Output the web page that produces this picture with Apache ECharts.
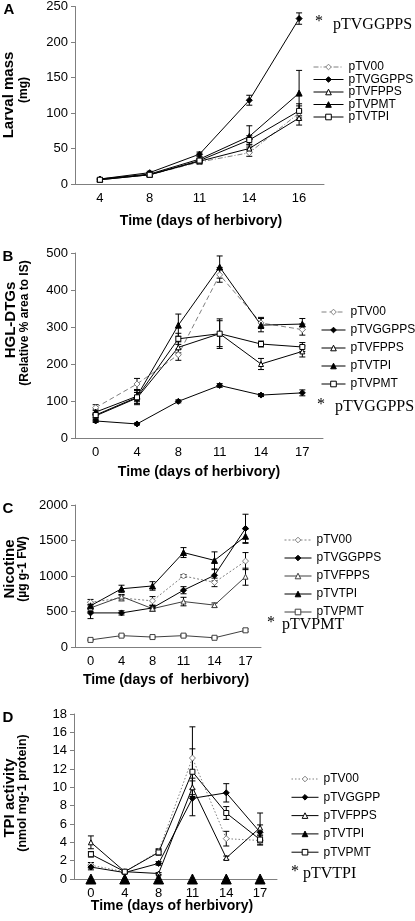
<!DOCTYPE html>
<html><head><meta charset="utf-8">
<script src="https://cdn.jsdelivr.net/npm/echarts@6/dist/echarts.min.js"></script>
<style>html,body{margin:0;padding:0;background:#fff}#c{width:415px;height:921px}</style>
</head><body><div id="c"></div>
<script>
// ---------- categories ----------
const daysA = ['4', '8', '11', '14', '16'];
const daysBCD = ['0', '4', '8', '11', '14', '17'];

// ---------- Panel A: larval mass (mg) ----------
const A_pTV00 = [7, 13, 31, 44, 100];
const A_pTV00_se = [1.5, 1.5, 3, 5, 10];
const A_pTVGGPPS = [7, 16, 42, 118, 233];
const A_pTVGGPPS_se = [1, 2, 3, 7, 8];
const A_pTVFPPS = [6, 13, 32, 50, 93];
const A_pTVFPPS_se = [1, 1.5, 3, 5, 10];
const A_pTVPMT = [7, 14, 35, 67, 128];
const A_pTVPMT_se = [1, 2, 3, 15, 32];
const A_pTVTPI = [6, 13, 33, 62, 103];
const A_pTVTPI_se = [1, 1.5, 3, 6, 10];

// ---------- Panel B: HGL-DTGs ----------
const B_pTV00 = [82, 146, 225, 441, 311, 293];
const B_pTV00_se = [8, 15, 15, 20, 15, 15];
const B_pTVGGPPS = [46, 38, 99, 142, 116, 122];
const B_pTVGGPPS_se = [4, 3, 4, 5, 4, 8];
const B_pTVFPPS = [60, 108, 245, 282, 200, 234];
const B_pTVFPPS_se = [6, 15, 15, 35, 15, 15];
const B_pTVTPI = [70, 113, 305, 462, 305, 308];
const B_pTVTPI_se = [8, 15, 30, 30, 18, 15];
const B_pTVPMT = [62, 110, 268, 282, 254, 246];
const B_pTVPMT_se = [6, 20, 15, 40, 8, 12];

// ---------- Panel C: nicotine ----------
const C_pTV00 = [630, 690, 650, 1000, 910, 1210];
const C_pTV00_se = [40, 40, 60, 20, 60, 120];
const C_pTVGGPPS = [480, 480, 550, 800, 1010, 1670];
const C_pTVGGPPS_se = [80, 30, 30, 50, 80, 200];
const C_pTVFPPS = [550, 710, 540, 640, 590, 990];
const C_pTVFPPS_se = [50, 30, 40, 60, 30, 120];
const C_pTVTPI = [580, 820, 860, 1330, 1220, 1560];
const C_pTVTPI_se = [50, 50, 60, 70, 120, 100];
const C_pTVPMT = [100, 160, 140, 160, 130, 235];
const C_pTVPMT_se = [10, 15, 10, 15, 10, 20];

// ---------- Panel D: TPI activity ----------
const D_pTV00 = [1.5, 0.8, 3.0, 13.2, 4.4, 4.2];
const D_pTV00_se = [0.3, 0.2, 0.3, 3.4, 0.8, 0.5];
const D_pTVGGPP = [1.3, 0.7, 1.7, 8.8, 9.4, 5.1];
const D_pTVGGPP_se = [0.3, 0.1, 0.2, 1.9, 1.0, 0.8];
const D_pTVFPPS = [4.0, 0.8, 0.6, 10.0, 2.3, 5.6];
const D_pTVFPPS_se = [0.7, 0.1, 0.1, 1.0, 0.2, 1.6];
const D_pTVTPI = [0, 0, 0, 0, 0, 0];
const D_pTVPMT = [2.7, 0.8, 2.9, 11.7, 7.2, 4.3];
const D_pTVPMT_se = [0.3, 0.1, 0.3, 2.5, 0.7, 0.5];

// ---------- axis ticks ----------
const yA = {min: 0, max: 250, interval: 50};
const yB = {min: 0, max: 500, interval: 100};
const yC = {min: 0, max: 2000, interval: 500};
const yD = {min: 0, max: 18, interval: 2};

const FONT = '"Liberation Sans", Arial, sans-serif';
const SERIF = '"Liberation Serif", "Times New Roman", serif';
const AXIS_GRAY = '#7f7f7f';

function line(idx, panel, name, data, symbol, filled, dash, color, size) {
  color = color || '#000';
  return {
    type: 'line', name: panel + ':' + name, xAxisIndex: idx, yAxisIndex: idx,
    data: data, symbol: symbol, symbolSize: size || 5, showSymbol: true,
    lineStyle: {color: color, width: 1, type: dash || 'solid'},
    itemStyle: {color: filled ? '#000' : '#fff', borderColor: filled ? '#000' : color, borderWidth: 1},
    emphasis: {disabled: true}, animation: false, z: 3
  };
}
function errs(idx, vals, se) {
  return {
    type: 'custom', xAxisIndex: idx, yAxisIndex: idx, animation: false, silent: true, z: 2,
    encode: {x: 0, y: [1, 2]},
    data: vals.map((v, i) => [i, v - se[i], v + se[i]]),
    renderItem: function (params, api) {
      const lo = api.coord([api.value(0), api.value(1)]);
      const hi = api.coord([api.value(0), api.value(2)]);
      const w = 3, st = {stroke: '#000', lineWidth: 1};
      return {type: 'group', children: [
        {type: 'line', shape: {x1: lo[0], y1: lo[1], x2: hi[0], y2: hi[1]}, style: st},
        {type: 'line', shape: {x1: lo[0] - w, y1: lo[1], x2: lo[0] + w, y2: lo[1]}, style: st},
        {type: 'line', shape: {x1: hi[0] - w, y1: hi[1], x2: hi[0] + w, y2: hi[1]}, style: st}
      ]};
    }
  };
}
function xAx(idx, cats) {
  return {type: 'category', gridIndex: idx, data: cats, boundaryGap: true,
    axisLine: {lineStyle: {color: AXIS_GRAY, width: 1}},
    axisTick: {length: 4, lineStyle: {color: AXIS_GRAY}},
    axisLabel: {color: '#000', fontSize: 13, fontFamily: FONT, margin: 8}};
}
function yAx(idx, t) {
  return {type: 'value', gridIndex: idx, min: t.min, max: t.max, interval: t.interval,
    axisLine: {show: true, lineStyle: {color: AXIS_GRAY, width: 1}},
    axisTick: {show: true, length: 4, lineStyle: {color: AXIS_GRAY}},
    splitLine: {show: false},
    axisLabel: {color: '#000', fontSize: 13, fontFamily: FONT, margin: 7, formatter: v => String(v)}};
}
function legend(panel, names, left, top, iw, gap, extra) {
  return {orient: 'vertical', left: left, top: top, itemWidth: iw, itemHeight: 7, itemGap: gap,
    selectedMode: false,
    itemStyle: {borderWidth: 1},
    lineStyle: {width: 1},
    data: names.map(n => Object.assign({name: panel + ':' + n}, (extra && extra[n]) || {})),
    formatter: n => n.split(':')[1],
    textStyle: {fontSize: 12, fontFamily: FONT, color: '#000', padding: [0, 0, 0, 0]}};
}
function txt(x, y, s, font, align, rot) {
  return {type: 'text', x: x, y: y, rotation: rot || 0, silent: true,
    style: {text: s, font: font, fill: '#000', align: align || 'center', verticalAlign: 'middle'}};
}

const DASHDOT = [5, 2, 1, 2];

const series = [
  // A
  errs(0, A_pTV00, A_pTV00_se), errs(0, A_pTVGGPPS, A_pTVGGPPS_se), errs(0, A_pTVFPPS, A_pTVFPPS_se),
  errs(0, A_pTVPMT, A_pTVPMT_se), errs(0, A_pTVTPI, A_pTVTPI_se),
  line(0, 'A', 'pTV00', A_pTV00, 'diamond', false, DASHDOT, '#808080', 6),
  line(0, 'A', 'pTVGGPPS', A_pTVGGPPS, 'diamond', true, 'solid', '#000', 6),
  line(0, 'A', 'pTVFPPS', A_pTVFPPS, 'triangle', false, 'solid', '#000', 5),
  line(0, 'A', 'pTVPMT', A_pTVPMT, 'triangle', true, 'solid', '#000', 6),
  line(0, 'A', 'pTVTPI', A_pTVTPI, 'rect', false, 'solid', '#000', 5),
  // B
  errs(1, B_pTV00, B_pTV00_se), errs(1, B_pTVGGPPS, B_pTVGGPPS_se), errs(1, B_pTVFPPS, B_pTVFPPS_se),
  errs(1, B_pTVTPI, B_pTVTPI_se), errs(1, B_pTVPMT, B_pTVPMT_se),
  line(1, 'B', 'pTV00', B_pTV00, 'diamond', false, [5, 3], '#808080', 6),
  line(1, 'B', 'pTVGGPPS', B_pTVGGPPS, 'diamond', true, 'solid', '#000', 6),
  line(1, 'B', 'pTVFPPS', B_pTVFPPS, 'triangle', false, 'solid', '#000', 5),
  line(1, 'B', 'pTVTPI', B_pTVTPI, 'triangle', true, 'solid', '#000', 6),
  line(1, 'B', 'pTVPMT', B_pTVPMT, 'rect', false, 'solid', '#000', 5),
  // C
  errs(2, C_pTV00, C_pTV00_se), errs(2, C_pTVGGPPS, C_pTVGGPPS_se), errs(2, C_pTVFPPS, C_pTVFPPS_se),
  errs(2, C_pTVTPI, C_pTVTPI_se), errs(2, C_pTVPMT, C_pTVPMT_se),
  line(2, 'C', 'pTV00', C_pTV00, 'diamond', false, [2, 2], '#808080', 6),
  line(2, 'C', 'pTVGGPPS', C_pTVGGPPS, 'diamond', true, 'solid', '#000', 6),
  line(2, 'C', 'pTVFPPS', C_pTVFPPS, 'triangle', false, 'solid', '#404040', 5),
  line(2, 'C', 'pTVTPI', C_pTVTPI, 'triangle', true, 'solid', '#000', 6),
  line(2, 'C', 'pTVPMT', C_pTVPMT, 'rect', false, 'solid', '#404040', 5),
  // D
  errs(3, D_pTV00, D_pTV00_se), errs(3, D_pTVGGPP, D_pTVGGPP_se), errs(3, D_pTVFPPS, D_pTVFPPS_se),
  errs(3, D_pTVPMT, D_pTVPMT_se),
  line(3, 'D', 'pTV00', D_pTV00, 'diamond', false, [1.5, 2], '#808080', 6),
  line(3, 'D', 'pTVGGPP', D_pTVGGPP, 'diamond', true, 'solid', '#000', 6),
  line(3, 'D', 'pTVFPPS', D_pTVFPPS, 'triangle', false, 'solid', '#000', 5),
  Object.assign(line(3, 'D', 'pTVTPI', D_pTVTPI, 'triangle', true, 'solid', '#000', 10), {lineStyle: {opacity: 0, width: 1, color: '#000'}}),
  line(3, 'D', 'pTVPMT', D_pTVPMT, 'rect', false, 'solid', '#000', 5)
];

const chart = echarts.init(document.getElementById('c'), null, {renderer: 'canvas'});
chart.setOption({
  animation: false,
  backgroundColor: '#fff',
  textStyle: {fontFamily: FONT},
  grid: [
    {left: 75, top: 6, width: 249, height: 178},
    {left: 75, top: 253, width: 248, height: 185},
    {left: 75, top: 505, width: 186, height: 142},
    {left: 74, top: 714, width: 203, height: 165}
  ],
  xAxis: [xAx(0, daysA), xAx(1, daysBCD), xAx(2, daysBCD), xAx(3, daysBCD)],
  yAxis: [yAx(0, yA), yAx(1, yB), yAx(2, yC), yAx(3, yD)],
  legend: [
    legend('A', ['pTV00', 'pTVGGPPS', 'pTVFPPS', 'pTVPMT', 'pTVTPI'], 308, 56, 30, 0.5),
    legend('B', ['pTV00', 'pTVGGPPS', 'pTVFPPS', 'pTVTPI', 'pTVPMT'], 316, 301, 24, 6),
    legend('C', ['pTV00', 'pTVGGPPS', 'pTVFPPS', 'pTVTPI', 'pTVPMT'], 279, 529, 27, 6),
    legend('D', ['pTV00', 'pTVGGPP', 'pTVFPPS', 'pTVTPI', 'pTVPMT'], 286, 768, 27, 6.3,
      {pTVTPI: {lineStyle: {opacity: 1, width: 1, color: '#000'}}})
  ],
  series: series,
  graphic: [
    // panel letters
    txt(9, 10, 'A', 'bold 15px ' + FONT), txt(8, 257, 'B', 'bold 15px ' + FONT),
    txt(8, 509, 'C', 'bold 15px ' + FONT), txt(8, 718, 'D', 'bold 15px ' + FONT),
    // y titles
    txt(9, 95, 'Larval mass', 'bold 15px ' + FONT, 'center', Math.PI / 2),
    txt(23.5, 90, '(mg)', 'bold 12px ' + FONT, 'center', Math.PI / 2),
    txt(11, 320, 'HGL-DTGs', 'bold 15px ' + FONT, 'center', Math.PI / 2),
    txt(24.5, 323, '(Relative % area to IS)', 'bold 12px ' + FONT, 'center', Math.PI / 2),
    txt(10, 569, 'Nicotine', 'bold 15px ' + FONT, 'center', Math.PI / 2),
    txt(23, 569, '(µg g-1 FW)', 'bold 12px ' + FONT, 'center', Math.PI / 2),
    txt(10, 798, 'TPI activity', 'bold 15px ' + FONT, 'center', Math.PI / 2),
    txt(23, 793, '(nmol mg-1 protein)', 'bold 12.5px ' + FONT, 'center', Math.PI / 2),
    // x titles
    txt(201, 221, 'Time (days of herbivory)', 'bold 14px ' + FONT),
    txt(199, 472, 'Time (days of herbivory)', 'bold 14px ' + FONT),
    txt(166, 680, 'Time (days of  herbivory)', 'bold 14px ' + FONT),
    txt(172, 906, 'Time (days of herbivory)', 'bold 14px ' + FONT),
    // significance annotations
    txt(315, 22, '*', '16px ' + SERIF, 'left'), txt(333, 25, 'pTVGGPPS', '16px ' + SERIF, 'left'),
    txt(317, 405, '*', '16px ' + SERIF, 'left'), txt(335, 407, 'pTVGGPPS', '16px ' + SERIF, 'left'),
    txt(267, 623, '*', '16px ' + SERIF, 'left'), txt(282, 625, 'pTVPMT', '16px ' + SERIF, 'left'),
    txt(291, 872, '*', '16px ' + SERIF, 'left'), txt(303, 874, 'pTVTPI', '16px ' + SERIF, 'left')
  ]
});
</script>
</body></html>
